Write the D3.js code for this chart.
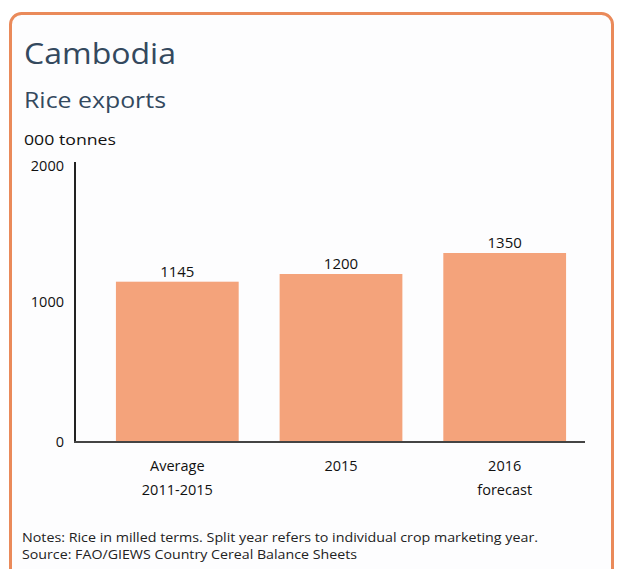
<!DOCTYPE html>
<html><head><meta charset="utf-8">
<script src="https://cdn.jsdelivr.net/npm/d3@7"></script>
<style>body{margin:0;background:#fff}svg{display:block;font-family:"Open Sans",sans-serif}</style>
</head><body>
<svg id="c" width="619" height="569"></svg>
<script>
const categories = [["Average","2011-2015"],["2015"],["2016","forecast"]];
const values = [1145, 1200, 1350];
const yTicks = [0, 1000, 2000];
const title = "Cambodia";
const subtitle = "Rice exports";
const unit = "000 tonnes";
const notes = ["Notes: Rice in milled terms. Split year refers to individual crop marketing year.",
               "Source: FAO/GIEWS Country Cereal Balance Sheets"];

const svg = d3.select("#c");
svg.append("rect").attr("x",10.5).attr("y",13.5).attr("width",602).attr("height",600)
  .attr("rx",11).attr("fill","#fdfdfe").attr("stroke","#ea8a5a").attr("stroke-width",3);

svg.append("text").attr("x",24).attr("y",64).attr("font-size",30).attr("fill","#34495e")
  .attr("textLength",152).attr("lengthAdjust","spacingAndGlyphs").text(title);
svg.append("text").attr("x",24).attr("y",108).attr("font-size",21.5).attr("fill","#34495e")
  .attr("textLength",142).attr("lengthAdjust","spacingAndGlyphs").text(subtitle);
svg.append("text").attr("x",24).attr("y",145).attr("font-size",14).attr("fill","#111")
  .attr("textLength",92).attr("lengthAdjust","spacingAndGlyphs").text(unit);

const y = d3.scaleLinear().domain([0,2000]).range([442,162]);
const x = d3.scaleBand().domain(d3.range(values.length)).range([75,607]).paddingInner(0.25).paddingOuter(0.25);

const g = svg.append("g");
g.selectAll("rect.bar").data(values).join("rect").attr("class","bar")
  .attr("x",(d,i)=>x(i)).attr("width",x.bandwidth())
  .attr("y",d=>y(d)).attr("height",d=>y(0)-y(d)).attr("fill","#f4a37b");

g.selectAll("text.val").data(values).join("text").attr("class","val")
  .attr("x",(d,i)=>x(i)+x.bandwidth()/2).attr("y",d=>y(d)-5)
  .attr("text-anchor","middle").attr("font-size",15).attr("fill","#111").text(d=>d);

// y axis
const yAxis = d3.axisLeft(y).tickValues(yTicks).tickSize(0).tickPadding(11).tickFormat(d3.format("d"));
const ya = svg.append("g").attr("transform","translate(75,0)").call(yAxis);
ya.select(".domain").remove();
ya.selectAll("text").attr("font-size",14.5).attr("fill","#111").attr("font-family","Open Sans");
ya.selectAll(".tick").filter(d=>d===2000).select("text").attr("dy","0.6em");
svg.append("line").attr("x1",75).attr("x2",75).attr("y1",162).attr("y2",442).attr("stroke","#222").attr("stroke-width",2);
svg.append("line").attr("x1",74).attr("x2",585).attr("y1",442).attr("y2",442).attr("stroke","#444").attr("stroke-width",2);

// category labels
categories.forEach((lines,i)=>{
  lines.forEach((t,j)=>{
    svg.append("text").attr("x",x(i)+x.bandwidth()/2).attr("y",471+j*24)
      .attr("text-anchor","middle").attr("font-size",14.5).attr("fill","#111").text(t);
  });
});

const noteLen = [516, 335];
notes.forEach((t,j)=>{
  svg.append("text").attr("x",22).attr("y",542+j*17).attr("font-size",12).attr("fill","#222")
    .attr("textLength", noteLen[j]).attr("lengthAdjust","spacingAndGlyphs").text(t);
});
</script>
</body></html>
